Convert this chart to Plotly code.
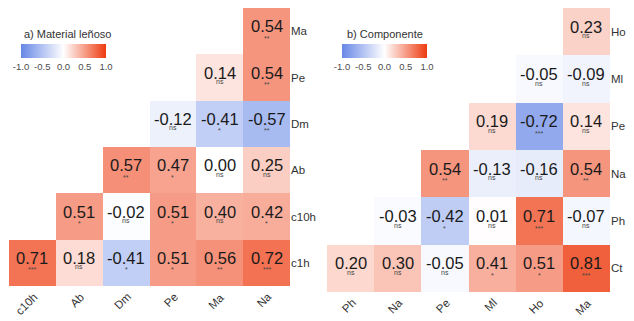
import plotly.graph_objects as go

W, H = 634, 321
FONT = "Liberation Sans, Arial, sans-serif"

# ---- panel a) Material leñoso ----
a_x = ["c10h", "Ab", "Dm", "Pe", "Ma", "Na"]
a_y = ["c1h", "c10h", "Ab", "Dm", "Pe", "Ma"]  # bottom -> top
a_vals = [
    [0.71, 0.18, -0.41, 0.51, 0.56, 0.72],
    [None, 0.51, -0.02, 0.51, 0.40, 0.42],
    [None, None, 0.57, 0.47, 0.00, 0.25],
    [None, None, None, -0.12, -0.41, -0.57],
    [None, None, None, None, 0.14, 0.54],
    [None, None, None, None, None, 0.54],
]
a_sig = [
    ["***", "ns", "*", "*", "**", "***"],
    [None, "*", "ns", "*", "ns", "*"],
    [None, None, "**", "*", "ns", "ns"],
    [None, None, None, "ns", "*", "**"],
    [None, None, None, None, "ns", "**"],
    [None, None, None, None, None, "**"],
]

# ---- panel b) Componente ----
b_x = ["Ph", "Na", "Pe", "Ml", "Ho", "Ma"]
b_y = ["Ct", "Ph", "Na", "Pe", "Ml", "Ho"]  # bottom -> top
b_vals = [
    [0.20, 0.30, -0.05, 0.41, 0.51, 0.81],
    [None, -0.03, -0.42, 0.01, 0.71, -0.07],
    [None, None, 0.54, -0.13, -0.16, 0.54],
    [None, None, None, 0.19, -0.72, 0.14],
    [None, None, None, None, -0.05, -0.09],
    [None, None, None, None, None, 0.23],
]
b_sig = [
    ["ns", "ns", "ns", "*", "*", "***"],
    [None, "ns", "*", "ns", "***", "ns"],
    [None, None, "**", "ns", "ns", "**"],
    [None, None, None, "ns", "***", "ns"],
    [None, None, None, None, "ns", "ns"],
    [None, None, None, None, None, "ns"],
]

cbar_ticks = [-1.0, -0.5, 0.0, 0.5, 1.0]
cbar_ticktext = ["-1.0", "-0.5", "0.0", "0.5", "1.0"]

scale = [[0.0, "#6787e6"], [0.5, "#ffffff"], [1.0, "#ee3b10"]]

fig = go.Figure()
fig.add_trace(go.Heatmap(x=a_x, y=a_y, z=a_vals, coloraxis="coloraxis",
                         xaxis="x", yaxis="y", hoverongaps=False))
fig.add_trace(go.Heatmap(x=b_x, y=b_y, z=b_vals, coloraxis="coloraxis2",
                         xaxis="x2", yaxis="y2", hoverongaps=False))

annots = []
for xs, ys, vals, sigs, xr, yr in [(a_x, a_y, a_vals, a_sig, "x", "y"),
                                   (b_x, b_y, b_vals, b_sig, "x2", "y2")]:
    for i, row in enumerate(vals):
        for j, v in enumerate(row):
            if v is None:
                continue
            annots.append(dict(x=xs[j], y=ys[i], xref=xr, yref=yr,
                               text=f"{v:.2f}", showarrow=False, yshift=5,
                               font=dict(family=FONT, size=16.5, color="#1a1a1a")))
            s = sigs[i][j]
            annots.append(dict(x=xs[j], y=ys[i], xref=xr, yref=yr,
                               text=s, showarrow=False,
                               yshift=-4 if s == "ns" else -7,
                               font=dict(family=FONT, size=7, color="#444444")))
    # rotated category labels under each column
    for lab in xs:
        annots.append(dict(x=lab, y=-0.5, xref=xr, yref=yr, text=lab,
                           showarrow=False, textangle=-45,
                           xanchor="right", yanchor="top", xshift=10, yshift=-2,
                           font=dict(family=FONT, size=11.5, color="#333333")))

annots.append(dict(x=67 / W, y=1 - 34 / H, xref="paper", yref="paper",
                   xanchor="center", yanchor="middle",
                   text="a) Material leñoso", showarrow=False,
                   font=dict(family=FONT, size=11, color="#333333")))
annots.append(dict(x=385 / W, y=1 - 34 / H, xref="paper", yref="paper",
                   xanchor="center", yanchor="middle",
                   text="b) Componente", showarrow=False,
                   font=dict(family=FONT, size=11, color="#333333")))


def cbar(x0):
    return dict(orientation="h", x=x0 / W, xanchor="left", y=1 - 44 / H,
                yanchor="top", len=85, lenmode="pixels", thickness=14,
                xpad=0, ypad=0, outlinewidth=0, ticks="",
                tickvals=cbar_ticks, ticktext=cbar_ticktext,
                tickfont=dict(family=FONT, size=9.5, color="#4d4d4d"))


def xax(dom, anchor):
    return dict(domain=dom, type="category", showgrid=False, zeroline=False,
                ticks="", showticklabels=False, showline=False, anchor=anchor,
                range=[-0.5, 5.5])


def yax(dom, anchor):
    return dict(domain=dom, type="category", showgrid=False, zeroline=False,
                ticks="", side="right", anchor=anchor, showline=False,
                range=[-0.5, 5.5],
                tickfont=dict(family=FONT, size=11.5, color="#333333"))


fig.update_layout(
    width=W, height=H, margin=dict(l=0, r=0, t=0, b=0),
    paper_bgcolor="white", plot_bgcolor="white",
    showlegend=False,
    coloraxis=dict(colorscale=scale, cmin=-1, cmax=1, colorbar=cbar(21)),
    coloraxis2=dict(colorscale=scale, cmin=-1, cmax=1, colorbar=cbar(342)),
    xaxis=xax([9 / W, 290 / W], "y"),
    yaxis=yax([1 - 286 / H, 1 - 8 / H], "x"),
    xaxis2=xax([327 / W, 610 / W], "y2"),
    yaxis2=yax([1 - 292 / H, 1 - 8 / H], "x2"),
    annotations=annots,
)

fig.write_html("out.html",
               config={"displayModeBar": False},
               post_script="document.body.style.margin='0';"
                           "document.body.style.overflow='hidden';")
